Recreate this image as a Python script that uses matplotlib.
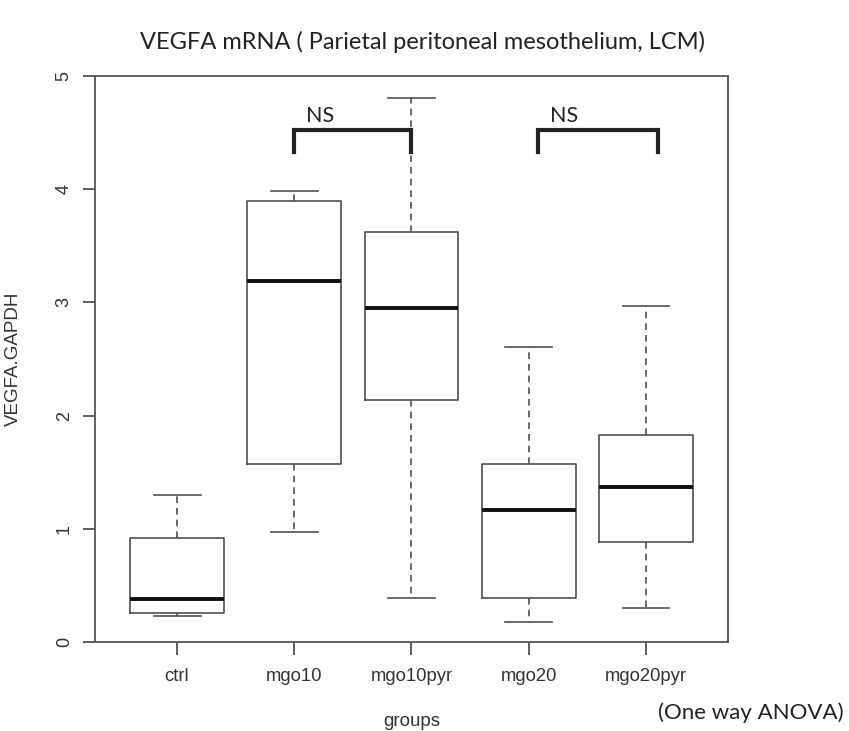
import matplotlib
matplotlib.use("Agg")
import matplotlib.pyplot as plt

groups = ["ctrl", "mgo10", "mgo10pyr", "mgo20", "mgo20pyr"]
whislo = [0.23, 0.97, 0.39, 0.18, 0.30]
q1 = [0.26, 1.57, 2.14, 0.39, 0.88]
med = [0.38, 3.19, 2.95, 1.17, 1.37]
q3 = [0.92, 3.90, 3.62, 1.57, 1.83]
whishi = [1.30, 3.98, 4.81, 2.61, 2.97]

# significance brackets (group positions, bracket height)
pairs = [(2, 3), (4.08, 5.1)]
bracket_y = [4.52, 4.52]
bracket_leg = 0.19

stats = []
for i, g in enumerate(groups):
    stats.append(dict(label=g, whislo=whislo[i], q1=q1[i], med=med[i],
                      q3=q3[i], whishi=whishi[i], fliers=[]))

fig = plt.figure(figsize=(8.49, 7.31), dpi=100)
ax = fig.add_axes([95/849, (731-642)/731, (728-95)/849, (642-76)/731])

box_c = "#505050"
ax.bxp(stats, positions=range(1, 6), widths=0.8, showfliers=False,
       boxprops=dict(color=box_c, linewidth=1.2),
       medianprops=dict(color="#111111", linewidth=2.8),
       whiskerprops=dict(color=box_c, linewidth=1.2, linestyle=(0, (4, 3))),
       capprops=dict(color=box_c, linewidth=1.2),
       capwidths=0.4)

ax.set_xlim(0.3, 5.7)
ax.set_ylim(0, 5)
ax.set_yticks([0, 1, 2, 3, 4, 5])
ax.set_yticklabels(["0", "1", "2", "3", "4", "5"], rotation=90, va="center",
                   family="Liberation Sans", fontsize=13, color="#333333")
ax.set_xticks(range(1, 6))
ax.set_xticklabels(groups, family="Liberation Sans", fontsize=13.3, color="#333333")
ax.tick_params(axis="x", length=9, width=1.2, color="#444444", pad=10)
ax.tick_params(axis="y", length=9, width=1.2, color="#444444", pad=7)
for s in ax.spines.values():
    s.set_color("#555555")
    s.set_linewidth(1.3)

ax.set_xlabel("groups", family="Liberation Sans", fontsize=13.5, color="#333333",
              va="center")
ax.set_ylabel("VEGFA.GAPDH", family="Liberation Sans", fontsize=13.5, color="#333333",
              va="center")
ax.xaxis.set_label_coords(0.5, (642 - 722) / 566)
ax.yaxis.set_label_coords((13 - 95) / 633, (642 - 359) / 566)

for (a, b), yb in zip(pairs, bracket_y):
    ax.plot([a, a, b, b], [yb - bracket_leg, yb, yb, yb - bracket_leg],
            color="#222222", linewidth=3, solid_joinstyle="miter", clip_on=False)
    ax.text(a + 0.22, yb + 0.04, "NS", family="Lato", fontsize=15.5,
            ha="center", va="bottom", color="#222222")

fig.text(422/849, 1 - 42/731, "VEGFA mRNA ( Parietal peritoneal mesothelium, LCM)",
         family="Lato", fontsize=17, ha="center", va="center", color="#222222")
fig.text(844/849, 1 - 713/731, "(One way ANOVA)", family="Lato", fontsize=16,
         ha="right", va="center", color="#222222")

fig.savefig("out.png", dpi=100)
